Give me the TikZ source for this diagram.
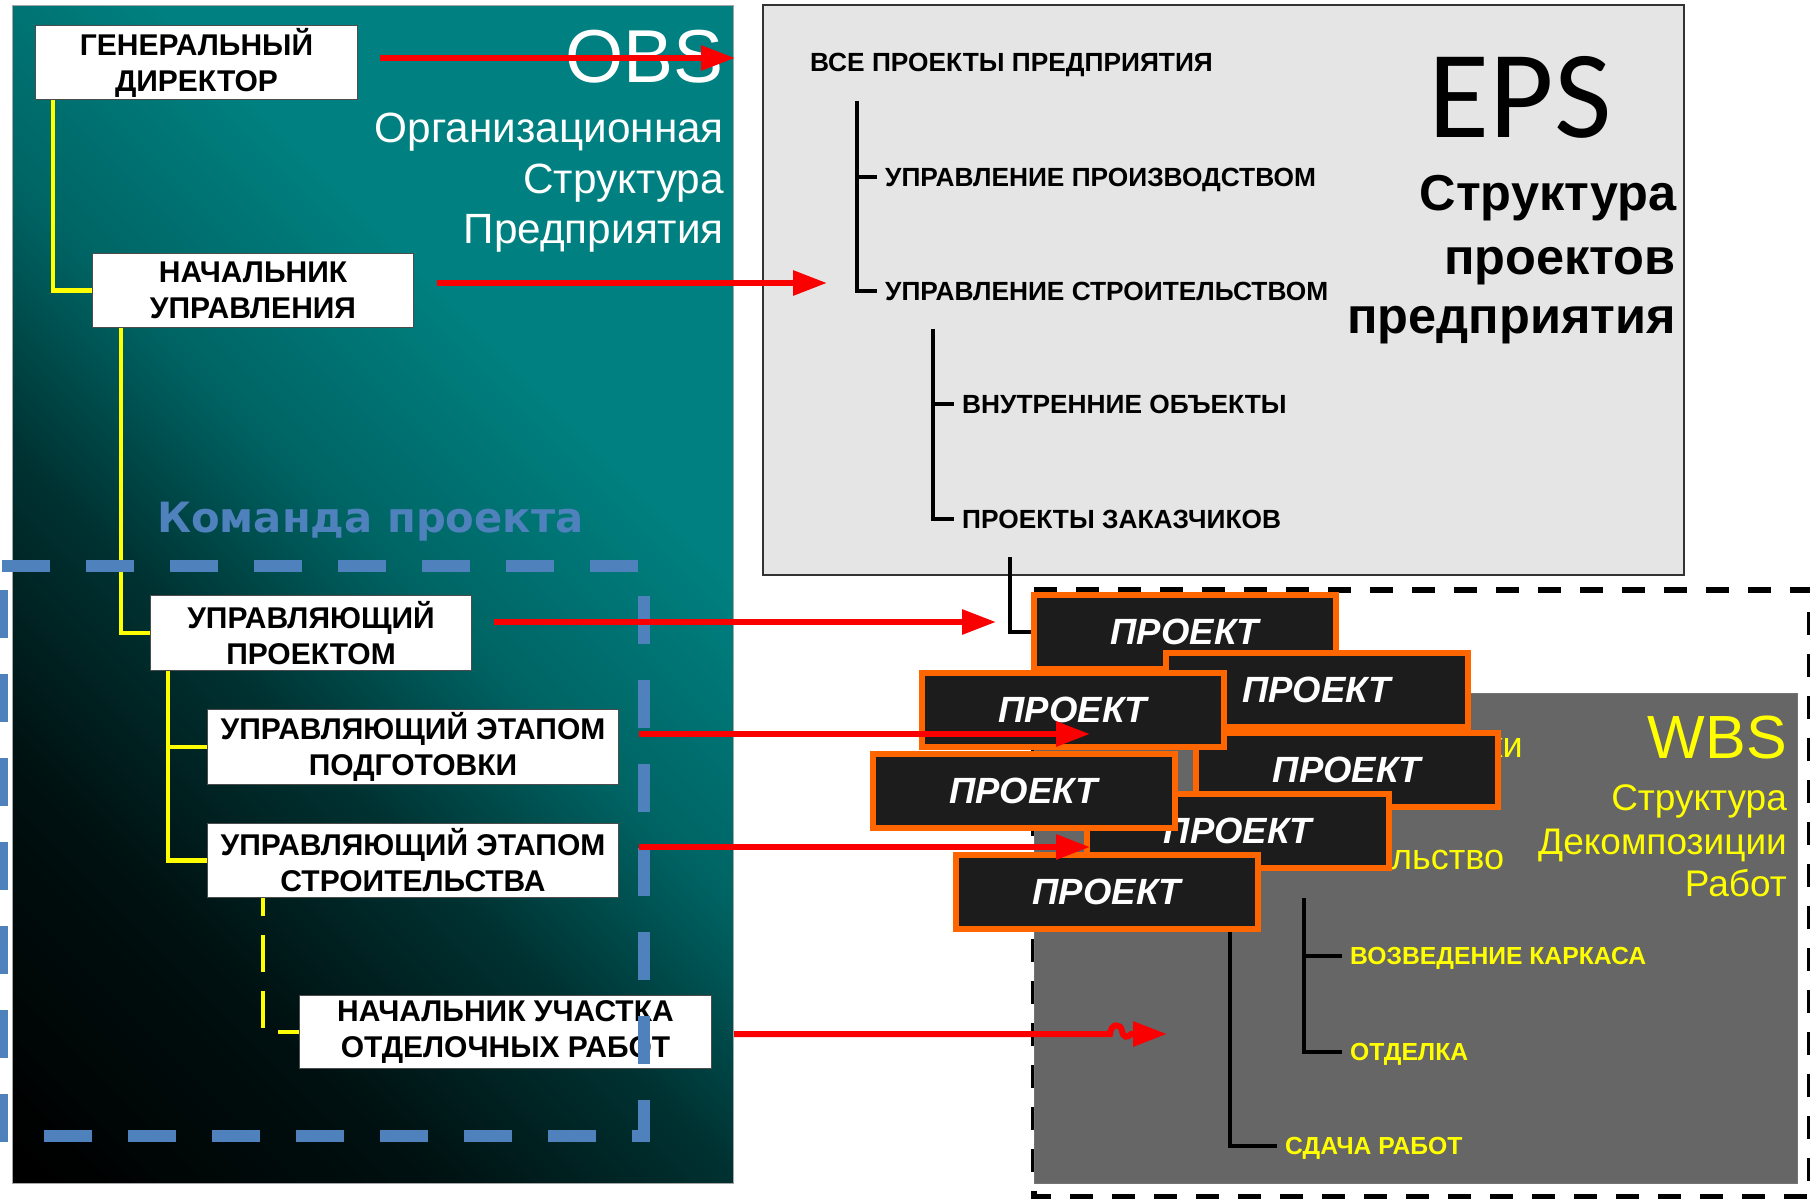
\documentclass[tikz,border=0pt]{standalone}
\usepackage{fontspec}
\setmainfont{Liberation Sans}
\newfontfamily\dejavufont{DejaVu Sans}
\newfontfamily\carlitofont{Carlito}
\usetikzlibrary{arrows.meta}
\newcommand\fsz[2]{\fontsize{#1pt}{#2pt}\selectfont}

\definecolor{tealc}{RGB}{0,128,128}
\definecolor{tealm}{RGB}{0,100,100}
\definecolor{teald}{RGB}{0,50,50}
\definecolor{teale}{RGB}{0,16,16}
\definecolor{kblue}{RGB}{79,129,189}
\definecolor{porange}{RGB}{255,102,0}
\definecolor{pdark}{RGB}{28,28,28}
\definecolor{wgray}{RGB}{102,102,102}
\definecolor{egray}{RGB}{229,229,229}
\definecolor{ared}{RGB}{250,0,0}
\definecolor{yel}{RGB}{255,255,0}

\pgfdeclarehorizontalshading{obsgrad}{100bp}{color(0bp)=(black); color(16bp)=(black); color(30bp)=(teale); color(42bp)=(teald); color(52bp)=(tealm); color(64bp)=(tealc); color(100bp)=(tealc)}

\tikzset{
  wbox/.style={draw=black!70, line width=1.2pt, fill=white, align=center, inner sep=0pt, font=\fsz{30}{36}\bfseries, text=black},
  pbox/.style={draw=porange, line width=6pt, fill=pdark, minimum width=302pt, minimum height=74pt, inner sep=0pt, font=\fsz{36.5}{40}\bfseries\itshape, text=white},
  etext/.style={font=\fsz{26.3}{30}\bfseries, text=black, inner xsep=8pt, inner ysep=0pt, text height=18.8pt, text depth=0pt, anchor=west},
  wtext/.style={font=\fsz{24.7}{30}\bfseries, text=yel, inner xsep=8pt, inner ysep=0pt, text height=17.7pt, text depth=0pt, anchor=west},
  bl/.style={draw=black, line width=4pt},
  yl/.style={draw=yel, line width=4.5pt},
  rarr/.style={draw=ared, line width=6pt, -{Triangle[length=34pt,width=24pt]}},
  ttl/.style={inner sep=0pt},
}

\begin{document}
\begin{tikzpicture}[x=1pt,y=-1pt]
\useasboundingbox (0,0) rectangle (1810,1199);
\fill[white] (0,0) rectangle (1810,1199);

% OBS panel
\shade[shading=obsgrad, shading angle=45] (12,6) rectangle (733,1183);
\draw[black!35, line width=1pt] (12,6) rectangle (733,1183);

% EPS panel
\draw[fill=egray, draw=black!80, line width=2pt] (763,5) rectangle (1684,575);

% WBS outer dashed frame and grey panel
\draw[line width=6.5pt, dash pattern=on 23pt off 19pt] (1034,590) -- (1810,590) -- (1810,1197) -- (1034,1197) -- cycle;
\draw[fill=wgray, draw=black!55, line width=1pt] (1034,693) rectangle (1797,1183);

% titles
\node[ttl, anchor=base east, font=\fsz{75}{75}, text=white] (obs) at (724,82) {OBS};
\node[ttl, anchor=base east, font=\fsz{42.3}{50}, text=white] (obs1) at (724,142) {Организационная};
\node[ttl, anchor=base east, font=\fsz{42.3}{50}, text=white] (obs2) at (724,193) {Структура};
\node[ttl, anchor=base east, font=\fsz{42.3}{50}, text=white] (obs3) at (724,243) {Предприятия};
\node[ttl, anchor=base west, font=\dejavufont\fsz{41.7}{42}\bfseries, text=kblue] (team) at (157,532) {Команда проекта};

\node[ttl, anchor=base, font=\carlitofont\fsz{125}{125}, text=black] (eps) at (1520,137) {EPS};
\node[ttl, anchor=base east, font=\fsz{50.5}{50}\bfseries] (ept1) at (1677,210) {Структура};
\node[ttl, anchor=base east, font=\fsz{50.5}{50}\bfseries] (ept2) at (1676,274) {проектов};
\node[ttl, anchor=base east, font=\fsz{50.5}{50}\bfseries] (ept3) at (1676,333) {предприятия};

\node[ttl, anchor=base east, font=\fsz{61}{61}, text=yel] (wbs) at (1787,758) {WBS};
\node[ttl, anchor=base east, font=\fsz{37}{44}, text=yel] (wbs1) at (1787,810) {Структура};
\node[ttl, anchor=base east, font=\fsz{37}{44}, text=yel] (wbs2) at (1787,854) {Декомпозиции};
\node[ttl, anchor=base east, font=\fsz{37}{44}, text=yel] (wbs3) at (1787,896) {Работ};
\node[ttl, anchor=base east, font=\fsz{36}{40}, text=yel] (fki) at (1523,757) {ки};
\node[ttl, anchor=base west, font=\fsz{36}{40}, text=yel] (flst) at (1391,869) {льство};

% EPS tree
\node[ttl, anchor=base west, font=\fsz{26.3}{30}\bfseries] (vse) at (810,72) {ВСЕ ПРОЕКТЫ ПРЕДПРИЯТИЯ};
\node[etext] (uproiz) at (877,177) {УПРАВЛЕНИЕ ПРОИЗВОДСТВОМ};
\node[etext] (ustr) at (877,291) {УПРАВЛЕНИЕ СТРОИТЕЛЬСТВОМ};
\node[etext] (vnutr) at (954,404) {ВНУТРЕННИЕ ОБЪЕКТЫ};
\node[etext] (pzak) at (954,519) {ПРОЕКТЫ ЗАКАЗЧИКОВ};
\coordinate (e1) at (857,101);
\coordinate (e2) at (933,329);
\coordinate (e3) at (1010,557);
\draw[bl] (e1) |- (ustr.west);
\draw[bl] (e1 |- uproiz.west) -- (uproiz.west);
\draw[bl] (e2) |- (pzak.west);
\draw[bl] (e2 |- vnutr.west) -- (vnutr.west);

% WBS tree texts
\node[wtext] (vozv) at (1342,956) {ВОЗВЕДЕНИЕ КАРКАСА};
\node[wtext] (otd) at (1342,1052) {ОТДЕЛКА};
\node[wtext] (sdacha) at (1277,1146) {СДАЧА РАБОТ};
\coordinate (w2) at (1304,898);
\draw[bl] (w2) |- (otd.west);
\draw[bl] (w2 |- vozv.west) -- (vozv.west);

% OBS boxes
\node[wbox, minimum width=322pt, minimum height=74pt] (gd) at (196.5,62.5) {ГЕНЕРАЛЬНЫЙ\\ДИРЕКТОР};
\node[wbox, minimum width=321pt, minimum height=74pt] (nu) at (253,290.5) {НАЧАЛЬНИК\\УПРАВЛЕНИЯ};
\node[wbox, minimum width=321pt, minimum height=75pt] (up) at (311,633) {УПРАВЛЯЮЩИЙ\\ПРОЕКТОМ};
\node[wbox, minimum width=411pt, minimum height=75pt] (uep) at (413,747) {УПРАВЛЯЮЩИЙ ЭТАПОМ\\ПОДГОТОВКИ};
\node[wbox, minimum width=411pt, minimum height=74pt] (ues) at (413,860.5) {УПРАВЛЯЮЩИЙ ЭТАПОМ\\СТРОИТЕЛЬСТВА};
\node[wbox, minimum width=412pt, minimum height=73pt] (nuor) at (505.5,1032) {НАЧАЛЬНИК УЧАСТКА\\ОТДЕЛОЧНЫХ РАБОТ};

\draw[yl] ([xshift=18pt]gd.south west) |- (nu.west);
\draw[yl] ([xshift=29pt]nu.south west) |- (up.west);
\draw[yl] ([xshift=18pt]up.south west) |- (uep.west);
\draw[yl] ([xshift=18pt]up.south west) |- (ues.west);
\draw[yl, dash pattern=on 37pt off 19pt, dash phase=19pt] ([xshift=56pt]ues.south west) |- (nuor.west);

% project boxes
\node[pbox] (p1) at (1185,632) {ПРОЕКТ};
\node[pbox] (p2) at (1316.5,689.5) {ПРОЕКТ};
\node[pbox] (p4) at (1347,770) {ПРОЕКТ};
\node[pbox] (p3) at (1073,709.5) {ПРОЕКТ};
\node[pbox] (p6) at (1238,830.5) {ПРОЕКТ};
\node[pbox] (p5) at (1023.5,791) {ПРОЕКТ};
\node[pbox] (p7) at (1107,891.5) {ПРОЕКТ};

\draw[bl] (e3) |- (p1.west);
\draw[bl] ([xshift=123pt]p7.south) |- (sdacha.west);

% team frame
\draw[kblue, line width=12pt, dash pattern=on 48pt off 36pt] (2,566) -- (644,566) -- (644,1136) -- (2,1136) -- cycle;

% red arrows
\coordinate (t1) at (735,58);
\coordinate (t2) at (827,283);
\coordinate (t3) at (996,622);
\coordinate (t4) at (1090,734);
\coordinate (t5) at (1090,847);
\coordinate (t6) at (1167,1034);
\draw[rarr] ([xshift=22pt,yshift=4.5pt]gd.east) -- (t1);
\draw[rarr] ([xshift=23pt,yshift=7.5pt]nu.east) -- (t2);
\draw[rarr] ([xshift=22pt,yshift=11pt]up.east) -- (t3);
\draw[rarr] ([xshift=20pt,yshift=13pt]uep.east) -- (t4);
\draw[rarr] ([xshift=20pt,yshift=13.5pt]ues.east) -- (t5);
\draw[rarr] ([xshift=22pt,yshift=-2pt]nuor.east) -- (1110,1034) .. controls (1111,1023) and (1121,1023) .. (1122,1031) .. controls (1123,1038) and (1128,1038) .. (1131,1034) -- (t6);
\end{tikzpicture}
\end{document}
